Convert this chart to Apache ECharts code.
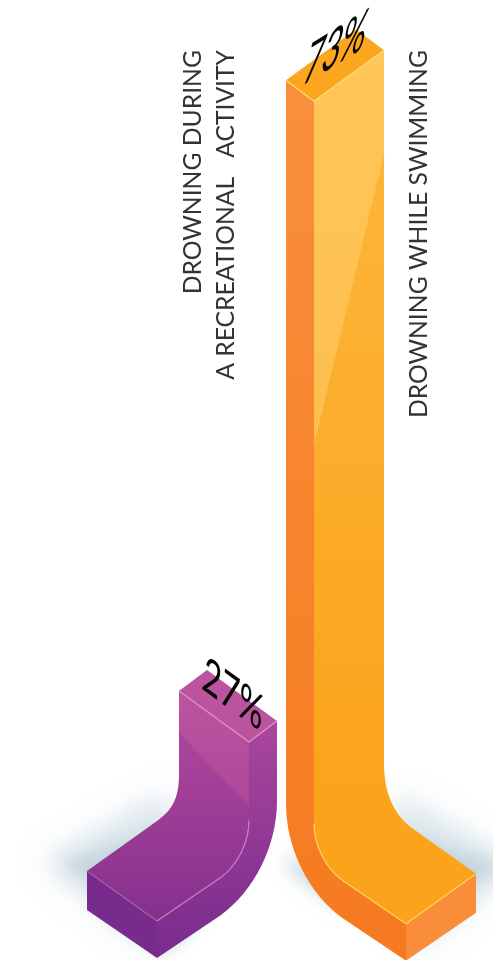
<!DOCTYPE html>
<html><head><meta charset="utf-8">
<style>html,body{margin:0;padding:0;background:#fff}#c{width:493px;height:960px}</style>
<script src="https://cdn.jsdelivr.net/npm/echarts@6/dist/echarts.min.js"></script>
</head><body><div id="c"></div>
<script>
const categories = ['Drowning during a recreational activity', 'Drowning while swimming'];
const values = [27, 73];
const valueLabels = ['27%', '73%'];
const labelLines = [['DROWNING DURING', 'A RECREATIONAL   ACTIVITY'], ['DROWNING WHILE SWIMMING']];

// presentation of each bar
const floorValues = [14.15, 13.95];
const looks = [
  {dir:-1, bend:147, hlA:64, hlB:-9,
   cap:'#BC539F', edge:'#DB92CD', edgeLow:'#C77FBC', edgeEnd:'#A3609C',
   face:['#A8429A','#85308E'], faceRange:[.3,1], hl:['#BD549F','#AE4799'],
   side:['#AA469C','#782B8D'], end:'#782B8D',
   tu:[60,44], tv:[5,-34], to:[-48,-55], lx:[-56,-23]},
  {dir:1, bend:160, hlA:342, hlB:52,
   cap:'#FBA61E', edge:'#FFDD70', edgeLow:'#FFD45E', edgeEnd:'#FFD45E',
   face:['#FDB83E','#FBA31B'], faceRange:[0,.85], hl:['#FEC759','#FDBF4E'],
   side:['#F98F3C','#F67A1F'], end:'#F98D39',
   tu:[62,-38], tv:[10,-43], to:[-13,-16], lx:[105]}
];
const W = 70, WY = 51, D = 28, DY = 21, TH = 37;

const ff = 'Lato, "Open Sans", sans-serif';
const mctx = document.createElement('canvas').getContext('2d');
function pctText(txt, ox, oy, tu, tv){
  const fs = 40, cap = fs * 0.72;
  mctx.font = '400 ' + fs + 'px ' + ff;
  const tw = mctx.measureText(txt).width;
  const a = tu[0]/tw, b = tu[1]/tw, c = -tv[0]/cap, d = -tv[1]/cap;
  const E=(a+d)/2, F=(a-d)/2, G=(b+c)/2, H=(b-c)/2;
  const Q=Math.hypot(E,H), R=Math.hypot(F,G);
  const a1=Math.atan2(G,F), a2=Math.atan2(H,E);
  const theta=(a2-a1)/2, phi=(a2+a1)/2;
  return {type:'group', x:ox, y:oy, rotation:-phi, children:[
    {type:'group', scaleX:Q+R, scaleY:Q-R, children:[
      {type:'text', rotation:-theta, z2:30, style:{text:txt, x:0, y:fs*0.2, fill:'#050505',
        font:'400 '+fs+'px '+ff, textAlign:'left', textVerticalAlign:'bottom'}}
    ]}
  ]};
}
function renderBar(params, api){
  const i = api.value(0);
  const L = looks[i];
  const s = L.dir;
  const top = api.coord([i, api.value(1)]);
  const ax = top[0], t = top[1];
  const fy = api.coord([i, floorValues[i]])[1];
  const X = dx => (ax + s*dx).toFixed(1);
  const P = (dx,y) => X(dx)+' '+y.toFixed(1);
  const grad = (c,a,b) => ({type:'linear',x:0,y:a==null?0:a,x2:0,y2:b==null?1:b,
     colorStops:[{offset:0,color:c[0]},{offset:1,color:c[1]}]});
  const faceP = 'M'+P(0,t)+' L'+P(W,t-WY)+' L'+P(W,fy-L.bend)+
    ' C'+P(W,fy-L.bend+32)+' '+P(82,fy-107)+' '+P(99,fy-95)+
    ' L'+P(162,fy-50)+' L'+P(92,fy)+' L'+P(29,fy-43)+
    ' C'+P(12,fy-55)+' '+P(0,fy-78)+' '+P(0,fy-105)+' Z';
  const sideP = 'M'+P(-D,t-DY)+' L'+P(0,t)+' L'+P(0,fy-105)+
    ' C'+P(0,fy-78)+' '+P(12,fy-55)+' '+P(29,fy-43)+' L'+P(92,fy)+' L'+P(92,fy+TH)+' L'+P(28,fy-6)+
    ' C'+P(-5,fy-30)+' '+P(-D,fy-75)+' '+P(-D,fy-120)+' Z';
  const endP = 'M'+P(92,fy)+' L'+P(162,fy-50)+' L'+P(162,fy-50+TH+2)+' L'+P(92,fy+TH)+' Z';
  const capP = 'M'+P(0,t)+' L'+P(W,t-WY)+' L'+P(W-D,t-WY-DY)+' L'+P(-D,t-DY)+' Z';
  const hlP = 'M'+P(0,t)+' L'+P(W,t-WY)+' L'+P(W,t+L.hlB)+' L'+P(0,t+L.hlA)+' Z';
  const edgeP = 'M'+P(-D,t-DY)+' L'+P(0,t)+' L'+P(W,t-WY);
  const lowP = 'M'+P(0,fy-100)+' C'+P(0,fy-78)+' '+P(12,fy-55)+' '+P(29,fy-43)+' L'+P(92,fy);
  const endLine = 'M'+P(92,fy)+' L'+P(162,fy-50);
  const path = (d, fill, z2) => ({type:'path', z2:z2||1, shape:{pathData:d}, style:{fill:fill, stroke:null}});
  const line = (d, col, w, z2) => ({type:'path', z2:z2||5, shape:{pathData:d}, style:{fill:null, stroke:col, lineWidth:w}});
  const children = [
    path(sideP, grad(L.side), 1),
    path(endP, L.end, 1),
    path(faceP, grad(L.face, L.faceRange[0], L.faceRange[1]), 2),
    path(hlP, grad(L.hl), 3),
    path(capP, L.cap, 4),
    line(edgeP, L.edge, 1.4),
    line(lowP, L.edgeLow, 1.2),
    line(endLine, L.edgeEnd, 1.2),
    line('M'+P(0,t+L.hlA)+' L'+P(W,t+L.hlB), L.hl[1], 0.8)
  ];
  children.push(pctText(valueLabels[i], ax+L.to[0], t+L.to[1], L.tu, L.tv));
  labelLines[i].forEach((ln,k)=>{
    children.push({type:'text', x:ax+L.lx[k], y:50, rotation:Math.PI/2, z2:20,
      style:{text:ln, x:0, y:0, fill:'#333', font:'400 24.7px '+ff, textAlign:'right', textVerticalAlign:'middle'}});
  });
  return {type:'group', children};
}
function renderShadow(params, api){
  const i = api.value(0), s = looks[i].dir;
  const ax = api.coord([i, api.value(1)])[0];
  const fy = api.coord([i, floorValues[i]])[1];
  const off = 1500;
  const poly = (pts,col,blur) => ({type:'polygon', shape:{points:pts.map(p=>[ax+s*p[0]-off, fy+p[1]])},
    style:{fill:'#000', shadowBlur:blur, shadowColor:col, shadowOffsetX:off}});
  const kids = [
    poly([[84,-128],[205,-60],[105,25],[60,-30]], 'rgba(178,202,214,0.5)', 28),
    poly([[110,-80],[190,-58],[130,-25],[90,-30]], 'rgba(160,190,203,0.4)', 16)
  ];
  if (s > 0) kids.push(poly([[-30,-70],[40,-35],[30,-15],[-20,-50]], 'rgba(150,182,196,0.6)', 18));
  else kids.push(poly([[92,20],[80,10],[40,-10],[60,15],[92,40]], 'rgba(170,200,212,0.5)', 12));
  return {type:'group', children:kids};
}
const seriesData = values.map((v,i)=>[i,v]);
const chart = echarts.init(document.getElementById('c'));
chart.setOption({
  animation:false,
  backgroundColor:'#fff',
  grid:{left:216.5, width:130, top:3.7, height:947.2},
  xAxis:{type:'category', data:categories, show:false},
  yAxis:{type:'value', min:12, max:80, show:false},
  series:[
    {type:'custom', name:'shadow', silent:true, z:1, clip:false, data:seriesData, renderItem:renderShadow, encode:{x:0,y:1}},
    {type:'custom', name:'share', z:2, clip:false, data:seriesData, renderItem:renderBar, encode:{x:0,y:1}}
  ]
});
</script></body></html>
